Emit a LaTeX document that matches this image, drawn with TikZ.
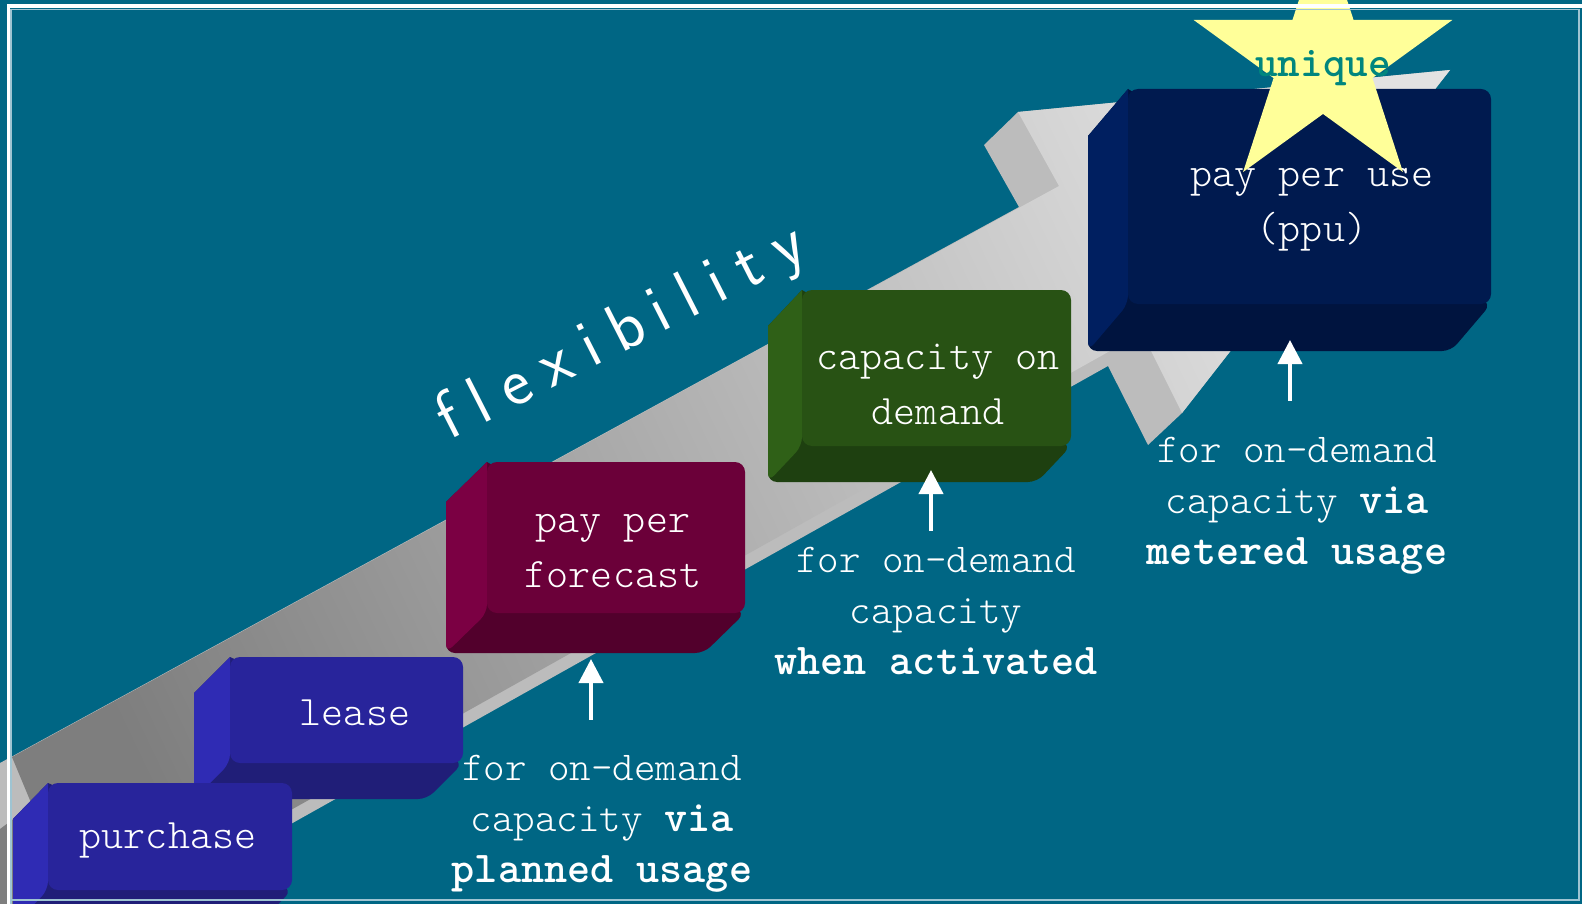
\documentclass[tikz,border=0pt]{standalone}
\usetikzlibrary{shapes.geometric,arrows.meta}

\definecolor{bgteal}{HTML}{006684}
\definecolor{arrowLight}{HTML}{E2E2E2}
\definecolor{arrowDark}{HTML}{7E7E7E}
\definecolor{arrowSide}{HTML}{BCBCBC}
\definecolor{blueFront}{HTML}{28249B}
\definecolor{blueLeft}{HTML}{2F2BB4}
\definecolor{blueBottom}{HTML}{201E78}
\definecolor{ppfFront}{HTML}{6B0039}
\definecolor{ppfLeft}{HTML}{7B0043}
\definecolor{ppfBottom}{HTML}{52002C}
\definecolor{codFront}{HTML}{285214}
\definecolor{codLeft}{HTML}{2F6017}
\definecolor{codBottom}{HTML}{1E4010}
\definecolor{ppuFront}{HTML}{001A4F}
\definecolor{ppuLeft}{HTML}{001F60}
\definecolor{ppuBottom}{HTML}{00143F}
\definecolor{starYellow}{HTML}{FFFF99}
\definecolor{uniqueTeal}{HTML}{00867E}
\definecolor{frameThin}{HTML}{9EC4D2}

% slab: name, x0, y0, x1, y1 (front face), depth dx, dy, colour prefix
\newcommand{\slab}[8]{%
  \pgfmathsetmacro{\slabL}{#2-#6}\pgfmathsetmacro{\slabT}{#3+#7}%
  \pgfmathsetmacro{\slabR}{#4-#6}\pgfmathsetmacro{\slabB}{#5+#7}%
  \pgfmathsetmacro{\slabW}{#4-#2}\pgfmathsetmacro{\slabH}{#5-#3}%
  \fill[#8Bottom] (#2,#3) -- (\slabL,\slabT) [rounded corners=9pt] -- (\slabL,\slabB) -- (\slabR,\slabB) -- (#4,#5) [sharp corners] -- cycle;
  \fill[#8Left] (#2,#3) -- (\slabL,\slabT) [rounded corners=9pt] -- (\slabL,\slabB) -- (#2,#5) [sharp corners] -- cycle;
  \node[front,fill=#8Front,minimum width=\slabW pt,minimum height=\slabH pt] (#1) at ({(#2+#4)/2},{(#3+#5)/2}) {};
}
\newcommand{\boldpart}[1]{{\fontsize{44}{51}\selectfont\fontseries{b}\selectfont #1}}

\begin{document}
\begin{tikzpicture}[x=1pt,y=-1pt,
  front/.style={rounded corners=10pt,inner sep=0pt},
  boxtext/.style={text=white,align=center,font=\fontsize{42}{55}\selectfont\ttfamily\fontseries{l}\selectfont},
  lbl/.style={text=white,align=center,font=\fontsize{41}{51}\selectfont\ttfamily\fontseries{l}\selectfont},
  uparrow/.style={white,line width=4pt,-{Triangle[width=24pt,length=24pt]}}]
\useasboundingbox (0,0) rectangle (1582,904);
\clip (0,0) rectangle (1582,904);
\fill[bgteal] (0,0) rectangle (1582,904);

% the big grey arrow
\fill[arrowSide] (0,763) -- (1019,207) -- (984,145) -- (1018,112) -- (1450,70) -- (1182,413) -- (1148,445) -- (1108,366) -- (0,987) -- cycle;
\shade[top color=arrowLight,bottom color=arrowDark,shading angle=-64.5] (12,757) -- (1059,186) -- (1018,112) -- (1450,70) -- (1182,413) -- (1142,333) -- (0,973) -- (0,829) -- (32,805) -- cycle;

\node[text=white,rotate=27,font=\fontsize{68}{68}\selectfont\sffamily] (flex) at (622,334)
  {f\kern17pt l\kern17pt e\kern17pt x\kern17pt i\kern17pt b\kern12pt i\kern17pt l\kern17pt i\kern17pt t\kern17pt y};

% steps, back to front
\slab{ppu}{1128}{89}{1491}{304}{40}{47}{ppu}
\slab{cod}{802}{290}{1071}{446}{34}{36}{cod}
\slab{ppf}{487}{462}{745}{613}{41}{40}{ppf}
\slab{lease}{230}{657}{463}{763}{36}{36}{blue}
\slab{buy}{48}{783}{292}{890}{35}{36}{blue}

\node[boxtext] (ppu-t) at (1312,210) {pay per use\\(ppu)};
\node[boxtext] (cod-t) at (938,384) {capacity on\\demand};
\node[boxtext] (ppf-t) at (613,551) {pay per\\forecast};
\node[boxtext] (lease-t) at (355,713) {lease};
\node[boxtext] (buy-t) at (168,840) {purchase};

\node[star,star points=5,star point ratio=2.618,minimum size=272pt,inner sep=0pt,fill=starYellow] (star) at (1323,62) {};
\node[text=uniqueTeal,font=\fontsize{43}{43}\selectfont\ttfamily\fontseries{b}\selectfont] (unique) at ([yshift=-6pt]star.center) {unique};

% why each step
\node[lbl] (why-ppf) at (602,824) {for on-demand\\capacity \boldpart{via}\\\boldpart{planned usage}};
\node[lbl] (why-cod) at (936,611) {for on-demand\\capacity\\\boldpart{when activated}};
\node[lbl] (why-ppu) at (1297,506) {for on-demand\\capacity \boldpart{via}\\\boldpart{metered usage}};

\coordinate (tip-ppf) at (591,659);
\coordinate (tip-cod) at (931,470);
\coordinate (tip-ppu) at (1290,340);
\draw[uparrow,shorten <=32pt] (why-ppf.north -| tip-ppf) -- (tip-ppf);
\draw[uparrow,shorten <=13pt] (why-cod.north -| tip-cod) -- (tip-cod);
\draw[uparrow,shorten <=33pt] (why-ppu.north -| tip-ppu) -- (tip-ppu);

% frame
\draw[frameThin,line width=1.2pt] (11,904) -- (11,9.5) -- (1579,9.5) -- (1579,900) -- (11,900);
\draw[white,line width=3.5pt] (8.5,904) -- (8.5,6) -- (1582,6);
\end{tikzpicture}
\end{document}
